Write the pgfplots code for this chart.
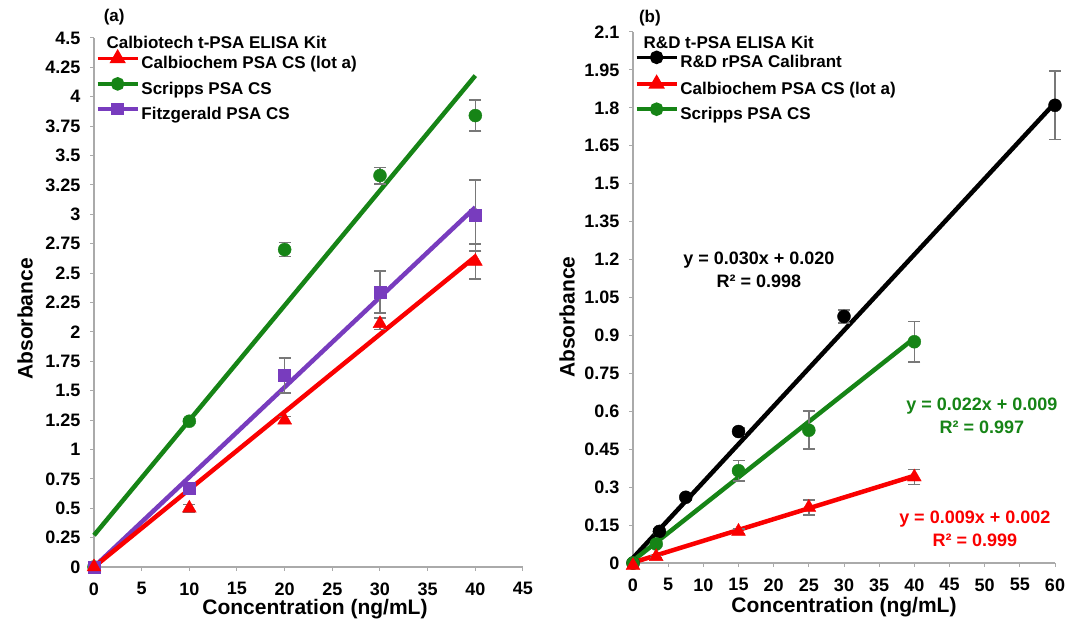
\documentclass[border=0pt]{standalone}
\usepackage{fontspec}
\setmainfont{Liberation Sans}
\usepackage{pgfplots}
\pgfplotsset{compat=1.18}

\definecolor{fitred}{RGB}{250,0,0}
\definecolor{fitgreen}{RGB}{22,132,22}
\definecolor{fitpurple}{RGB}{120,60,190}
\definecolor{errgray}{RGB}{120,120,120}
\definecolor{axgray}{RGB}{170,170,170}

\newcommand{\tickfont}{\fontsize{18}{18}\selectfont\bfseries}
\newcommand{\legfont}{\fontsize{17}{17}\selectfont\bfseries}
\newcommand{\labfont}{\fontsize{21}{21}\selectfont\bfseries}
\newcommand{\eqfont}{\fontsize{18}{23}\selectfont\bfseries}

\pgfplotsset{
  panel/.style={
    scale only axis, clip=false,
    axis x line*=bottom, axis y line*=left,
    axis line style={axgray, line width=1.5pt},
    tick align=outside, major tick length=4pt,
    tick style={axgray, line width=1pt},
    /pgf/number format/assume math mode=true,
    ticklabel style={font=\tickfont},
    yticklabel style={xshift=-6pt},
    xticklabel style={yshift=-8pt},
    label style={font=\labfont},
    xlabel={Concentration (ng/mL)},
    ylabel={Absorbance},
    legend style={draw=none, fill=none, inner sep=0pt, font=\legfont,
      row sep=6.5pt, cells={anchor=west}, anchor=north west},
    legend image code/.code={\draw[mark repeat=2, mark phase=2, #1]
      plot coordinates {(0pt,5pt) (20pt,5pt) (40pt,5pt)};},
  },
  pts/.style={only marks,
    /pgfplots/error bars/y dir=both,
    /pgfplots/error bars/y explicit,
    /pgfplots/error bars/error bar style={errgray, line width=1.6pt},
    /pgfplots/error bars/error mark options={errgray, line width=1.6pt, rotate=90, mark size=6pt}},
  fit/.style={line width=4.5pt, no marks},
}

\begin{document}
\begin{tikzpicture}
\useasboundingbox (0,0) rectangle (1066pt,621pt);

% (a) Calbiotech kit
\begin{axis}[panel,
  at={(94pt,54pt)}, anchor=south west,
  width=429pt, height=529pt,
  xmin=0, xmax=45, ymin=0, ymax=4.5,
  xtick distance=5, ytick distance=0.25,
  ylabel style={at={(rel axis cs:0,0.469)}, anchor=center, yshift=69pt},
  xlabel style={at={(rel axis cs:0.515,0)}, anchor=center, yshift=-42pt},
  legend style={at={(rel axis cs:0.004,0.973)}},
]
\addlegendimage{fitred, line width=3.5pt, mark=triangle*, mark size=6pt}
\addlegendentry{Calbiochem PSA CS (lot a)}
\addlegendimage{fitgreen, line width=3.5pt, mark=*, mark size=5pt}
\addlegendentry{Scripps PSA CS}
\addlegendimage{fitpurple, line width=3.5pt, mark=square*, mark size=4.5pt}
\addlegendentry{Fitzgerald PSA CS}

\addplot[fit, fitgreen] coordinates {(0,0.27) (40,4.18)};
\addplot[fit, fitpurple] coordinates {(0,0) (40,3.06)};
\addplot[fit, fitred] coordinates {(0,0) (40,2.64)};

\addplot[pts, fitgreen, mark=*, mark size=6.5pt] coordinates {
  (0,0) +- (0,0.01)
  (10,1.24) +- (0,0.02)
  (20,2.70) +- (0,0.06)
  (30,3.33) +- (0,0.07)
  (40,3.84) +- (0,0.13)
};
\addplot[pts, fitpurple, mark=square*, mark size=6pt] coordinates {
  (0,0) +- (0,0.02)
  (10,0.67) +- (0,0.05)
  (20,1.63) +- (0,0.15)
  (30,2.34) +- (0,0.18)
  (40,2.99) +- (0,0.30)
};
\addplot[pts, fitred, mark=triangle*, mark size=8pt] coordinates {
  (0,0) +- (0,0.02)
  (10,0.50) +- (0,0.03)
  (20,1.25) +- (0,0.03)
  (30,2.07) +- (0,0.05)
  (40,2.60) +- (0,0.15)
};

\node[anchor=west, font=\legfont] at (rel axis cs:0.021,0.992) {Calbiotech t-PSA ELISA Kit};
\node[font=\legfont] at (rel axis cs:0.047,1.04) {(a)};
\end{axis}

% (b) R&D kit
\begin{axis}[panel,
  at={(633pt,58pt)}, anchor=south west,
  width=422pt, height=531pt,
  xmin=0, xmax=60, ymin=0, ymax=2.1,
  xtick distance=5, ytick distance=0.15,
  ylabel style={at={(rel axis cs:0,0.463)}, anchor=center, yshift=66pt},
  xlabel style={at={(rel axis cs:0.5,0)}, anchor=center, yshift=-44pt},
  legend style={at={(rel axis cs:0.004,0.962)}},
]
\addlegendimage{black, line width=3.5pt, mark=*, mark size=5pt}
\addlegendentry{R\&D rPSA Calibrant}
\addlegendimage{fitred, line width=3.5pt, mark=triangle*, mark size=6pt}
\addlegendentry{Calbiochem PSA CS (lot a)}
\addlegendimage{fitgreen, line width=3.5pt, mark=*, mark size=5pt}
\addlegendentry{Scripps PSA CS}

\addplot[fit, black] coordinates {(0,0.020) (60,1.820)};
\addplot[fit, fitgreen] coordinates {(0,0.009) (40,0.889)};
\addplot[fit, fitred] coordinates {(0,0.002) (40,0.345)};

\addplot[pts, black, mark=*, mark size=6.5pt] coordinates {
  (0,0) +- (0,0.005)
  (3.75,0.125) +- (0,0.01)
  (7.5,0.26) +- (0,0.01)
  (15,0.52) +- (0,0.015)
  (30,0.975) +- (0,0.025)
  (60,1.81) +- (0,0.135)
};
\addplot[pts, fitgreen, mark=*, mark size=6.5pt] coordinates {
  (0,0) +- (0,0.005)
  (3.3,0.075) +- (0,0.01)
  (15,0.365) +- (0,0.04)
  (25,0.525) +- (0,0.075)
  (40,0.875) +- (0,0.08)
};
\addplot[pts, fitred, mark=triangle*, mark size=8pt] coordinates {
  (0,-0.01) +- (0,0.005)
  (3.3,0.025) +- (0,0.005)
  (15,0.125) +- (0,0.01)
  (25,0.22) +- (0,0.03)
  (40,0.34) +- (0,0.03)
};

\node[align=center, font=\eqfont, text=black] at (axis cs:17.9,1.159) {y = 0.030x + 0.020\\R² = 0.998};
\node[align=center, font=\eqfont, text=fitgreen] at (axis cs:49.6,0.581) {y = 0.022x + 0.009\\R² = 0.997};
\node[align=center, font=\eqfont, text=fitred] at (axis cs:48.6,0.134) {y = 0.009x + 0.002\\R² = 0.999};

\node[anchor=west, font=\legfont] at (rel axis cs:0.017,0.981) {R\&D t-PSA ELISA Kit};
\node[font=\legfont] at (rel axis cs:0.04,1.026) {(b)};
\end{axis}
\end{tikzpicture}
\end{document}
